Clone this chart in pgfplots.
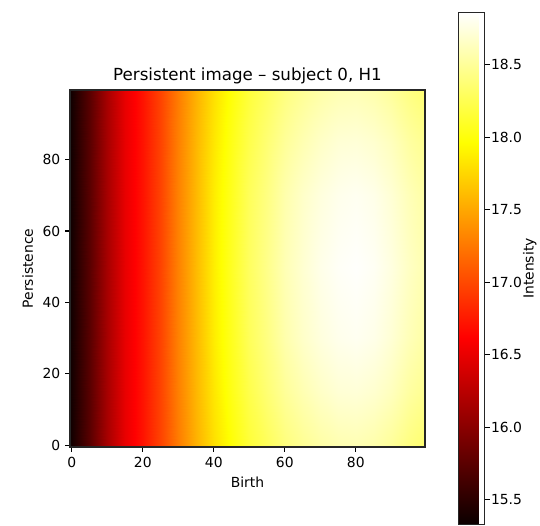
\documentclass[border=0pt]{standalone}
\usepackage{fontspec}
\setmainfont{DejaVu Sans}
\usepackage{pgfplots}
\pgfplotsset{compat=1.18}
\newcommand{\fs}{\fontsize{10}{12}\selectfont}

% persistence image, sampled on a coarse grid (birth x persistence -> intensity)
\pgfplotstableread{
x y v
-0.5 -0.5 15.35
5 -0.5 15.75
10 -0.5 16.15
15 -0.5 16.50
20 -0.5 16.72
25 -0.5 16.98
30 -0.5 17.27
35 -0.5 17.55
40 -0.5 17.80
45 -0.5 17.99
50 -0.5 18.16
55 -0.5 18.28
60 -0.5 18.40
65 -0.5 18.48
70 -0.5 18.54
75 -0.5 18.58
80 -0.5 18.59
85 -0.5 18.56
90 -0.5 18.50
95 -0.5 18.41
99.5 -0.5 18.35
-0.5 15 15.35
5 15 15.75
10 15 16.15
15 15 16.50
20 15 16.72
25 15 16.98
30 15 17.29
35 15 17.58
40 15 17.84
45 15 18.05
50 15 18.23
55 15 18.37
60 15 18.50
65 15 18.59
70 15 18.66
75 15 18.71
80 15 18.72
85 15 18.69
90 15 18.63
95 15 18.53
99.5 15 18.47
-0.5 30 15.35
5 30 15.75
10 30 16.15
15 30 16.50
20 30 16.72
25 30 16.98
30 30 17.30
35 30 17.59
40 30 17.87
45 30 18.08
50 30 18.28
55 30 18.42
60 30 18.57
65 30 18.67
70 30 18.74
75 30 18.79
80 30 18.81
85 30 18.78
90 30 18.71
95 30 18.61
99.5 30 18.54
-0.5 50 15.35
5 50 15.75
10 50 16.15
15 50 16.50
20 50 16.72
25 50 16.98
30 50 17.30
35 50 17.60
40 50 17.88
45 50 18.10
50 50 18.30
55 50 18.45
60 50 18.60
65 50 18.70
70 50 18.78
75 50 18.83
80 50 18.85
85 50 18.82
90 50 18.75
95 50 18.65
99.5 50 18.58
-0.5 70 15.35
5 70 15.75
10 70 16.15
15 70 16.50
20 70 16.72
25 70 16.98
30 70 17.30
35 70 17.59
40 70 17.87
45 70 18.08
50 70 18.28
55 70 18.42
60 70 18.57
65 70 18.67
70 70 18.74
75 70 18.79
80 70 18.81
85 70 18.78
90 70 18.71
95 70 18.61
99.5 70 18.54
-0.5 85 15.35
5 85 15.75
10 85 16.15
15 85 16.50
20 85 16.72
25 85 16.98
30 85 17.29
35 85 17.58
40 85 17.84
45 85 18.05
50 85 18.23
55 85 18.37
60 85 18.50
65 85 18.59
70 85 18.66
75 85 18.71
80 85 18.72
85 85 18.69
90 85 18.63
95 85 18.53
99.5 85 18.47
-0.5 99.5 15.35
5 99.5 15.75
10 99.5 16.15
15 99.5 16.50
20 99.5 16.72
25 99.5 16.98
30 99.5 17.27
35 99.5 17.55
40 99.5 17.80
45 99.5 18.00
50 99.5 18.17
55 99.5 18.29
60 99.5 18.41
65 99.5 18.49
70 99.5 18.55
75 99.5 18.59
80 99.5 18.60
85 99.5 18.57
90 99.5 18.51
95 99.5 18.42
99.5 99.5 18.36
}\pimage

\begin{document}
\begin{tikzpicture}
\begin{axis}[
  at={(0,0)}, anchor=south west,
  scale only axis, width=255.6pt, height=257pt,
  xmin=-0.5, xmax=99.5, ymin=-0.5, ymax=99.5,
  axis on top,
  xtick={0,20,40,60,80}, ytick={0,20,40,60,80},
  tick pos=left, tick align=outside, major tick length=3.5pt,
  tick style={black, line width=0.8pt},
  axis line style={black!85, line width=0.8pt},
  ticklabel style={font=\fs},
  /pgf/number format/assume math mode=true,
  xlabel={Birth}, ylabel={Persistence},
  label style={font=\fs},
  title={Persistent image – subject 0, H1},
  title style={font=\fontsize{12}{14}\selectfont, yshift=-5pt},
  colormap={hot}{rgb(0cm)=(0.0416,0,0); rgb(3.65cm)=(1,0,0); rgb(7.46cm)=(1,1,0); rgb(10cm)=(1,1,1)},
  point meta min=15.33, point meta max=18.86,
  colorbar,
  colorbar style={
    at={(parent axis.east)}, anchor=west, xshift=15.8pt,
    scale only axis, width=18.7pt, height=368.6pt,
    ytick={15.5,16,16.5,17,17.5,18,18.5},
    ytick pos=right, yticklabel pos=right,
    yticklabel style={font=\fs, xshift=-2.5pt, /pgf/number format/.cd, fixed, fixed zerofill, precision=1},
    /pgf/number format/assume math mode=true,
    tick align=outside, major tick length=3.5pt,
    tick style={black, line width=0.8pt},
    axis line style={black!85, line width=0.8pt},
    ylabel={Intensity}, ylabel style={font=\fs}, ylabel shift=-6pt,
  },
]
\addplot[surf, shader=interp, mesh/cols=21, point meta=explicit] table[x=x, y=y, meta=v] {\pimage};
\end{axis}
\pgfresetboundingbox
\path (-50.4pt,-56.9pt) rectangle (338.4pt,321.8pt);
\end{tikzpicture}
\end{document}
